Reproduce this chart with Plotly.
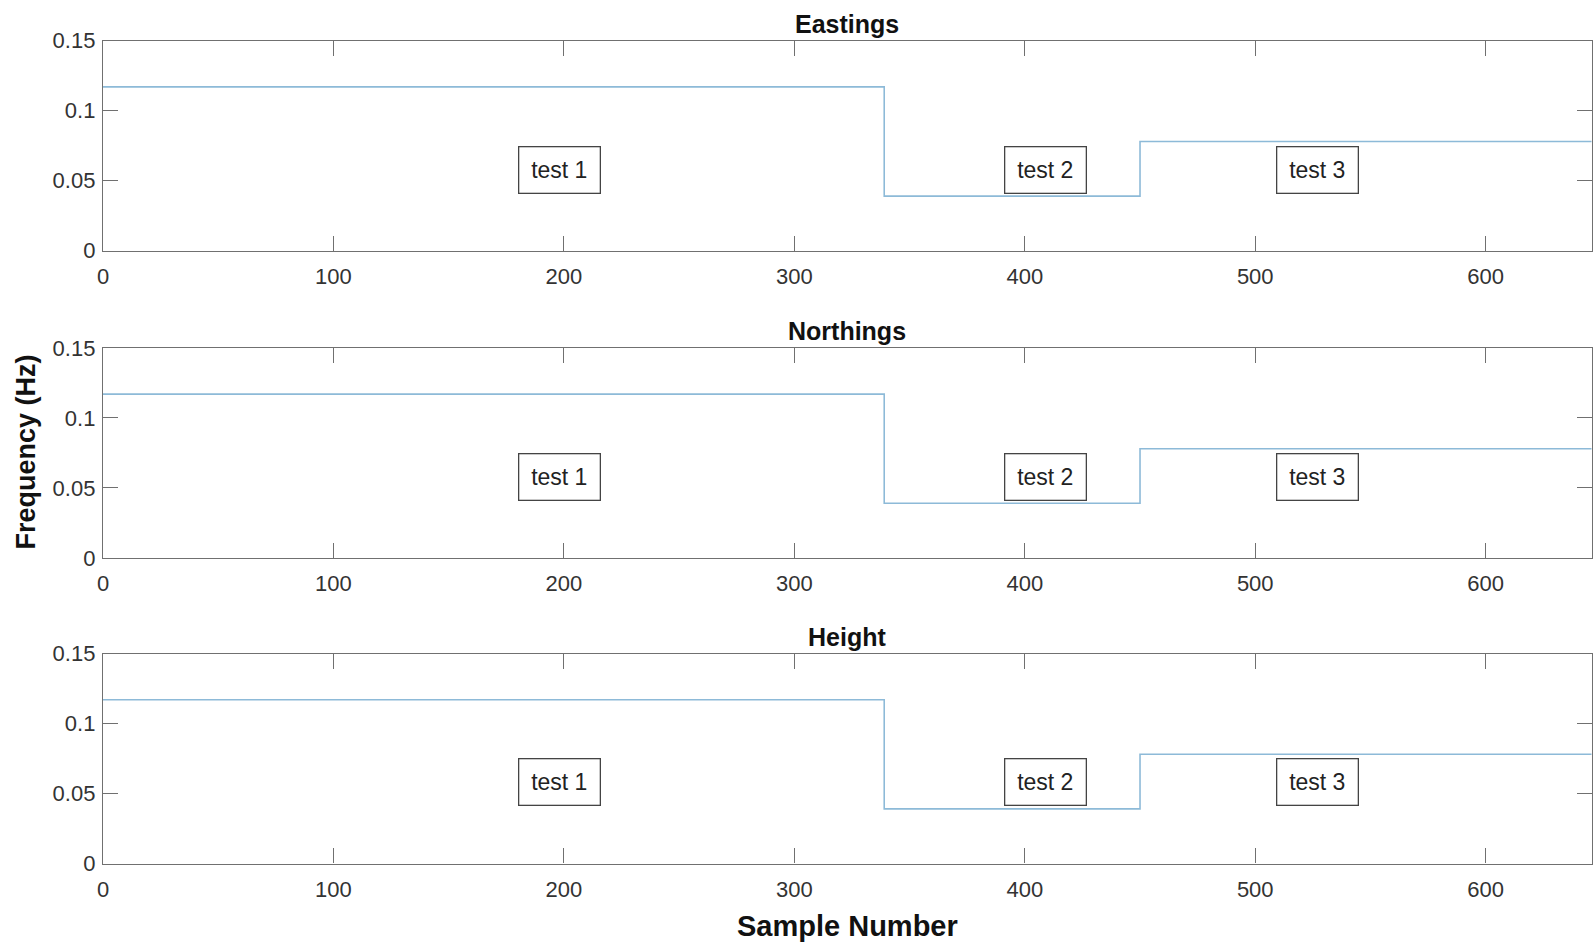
import plotly.graph_objects as go

# ---- data ----
panel_titles = ["Eastings", "Northings", "Height"]
step_x = [0, 339, 450, 646]            # sample numbers where the level changes (last = end)
step_levels = [0.117, 0.039, 0.078, 0.078]
label_texts = ["test 1", "test 2", "test 3"]
label_x = [198, 409, 527]
label_y = [0.058, 0.058, 0.058]
x_ticks = [0, 100, 200, 300, 400, 500, 600]
y_ticks = [0, 0.05, 0.1, 0.15]
y_tick_text = ["0", "0.05", "0.1", "0.15"]

W, H = 1596, 948
FONT = "Arial, Liberation Sans, Helvetica, sans-serif"
AX_COL = "#707070"
TXT_COL = "#333333"
LINE_COL = "#8dbad8"

# pixel positions of the three axes boxes
x_left, x_right = 103, 1591.7
panel_tops = [40.7, 347.9, 653.5]
panel_h = 210

fig = go.Figure()
annotations = []

for i in range(3):
    n = "" if i == 0 else str(i + 1)
    top = panel_tops[i]
    bot = top + panel_h
    dom_y = [1 - bot / H, 1 - top / H]
    fig.add_trace(go.Scatter(
        x=step_x, y=step_levels, mode="lines", line=dict(shape="hv", color=LINE_COL, width=1.6),
        xaxis="x" + n, yaxis="y" + n, showlegend=False, hoverinfo="skip"))
    axis_common = dict(
        showline=True, linecolor=AX_COL, linewidth=1.3, mirror="ticks",
        ticks="inside", ticklen=15, tickwidth=1.2, tickcolor=AX_COL,
        showgrid=False, zeroline=False, automargin=False,
        tickfont=dict(family=FONT, size=22, color=TXT_COL),
    )
    fig.layout["xaxis" + n] = dict(
        axis_common, domain=[x_left / W, x_right / W], range=[0, 646],
        tickvals=x_ticks, anchor="y" + n, ticklabelstandoff=6)
    fig.layout["yaxis" + n] = dict(
        axis_common, domain=dom_y, range=[0, 0.15],
        tickvals=y_ticks, ticktext=y_tick_text, anchor="x" + n, ticklabelstandoff=2)
    # panel title
    annotations.append(dict(
        text="<b>" + panel_titles[i] + "</b>", xref="paper", yref="paper",
        x=(x_left + x_right) / 2 / W, y=1 - (top - 0.5) / H, xanchor="center", yanchor="bottom",
        showarrow=False, font=dict(family=FONT, size=25, color="#111111")))
    # text boxes
    for t, lx, ly in zip(label_texts, label_x, label_y):
        annotations.append(dict(
            text=t, xref="x" + n, yref="y" + n, x=lx, y=ly, showarrow=False,
            xanchor="center", yanchor="middle",
            font=dict(family=FONT, size=23, color="#222222"),
            bordercolor="#444444", borderwidth=1.3, borderpad=1,
            width=78, height=43, bgcolor="rgba(255,255,255,0)"))

# shared axis titles
annotations.append(dict(
    text="<b>Frequency (Hz)</b>", xref="paper", yref="paper",
    x=25 / W, y=1 - 452.5 / H, textangle=-90, showarrow=False,
    xanchor="center", yanchor="middle",
    font=dict(family=FONT, size=27, color="#111111")))
annotations.append(dict(
    text="<b>Sample Number</b>", xref="paper", yref="paper",
    x=(x_left + x_right) / 2 / W, y=1 - 926 / H, showarrow=False,
    xanchor="center", yanchor="middle",
    font=dict(family=FONT, size=29, color="#111111")))

fig.update_layout(
    width=W, height=H, margin=dict(l=0, r=0, t=0, b=0, autoexpand=False),
    paper_bgcolor="white", plot_bgcolor="white",
    annotations=annotations,
)

fig.write_html("out.html")
